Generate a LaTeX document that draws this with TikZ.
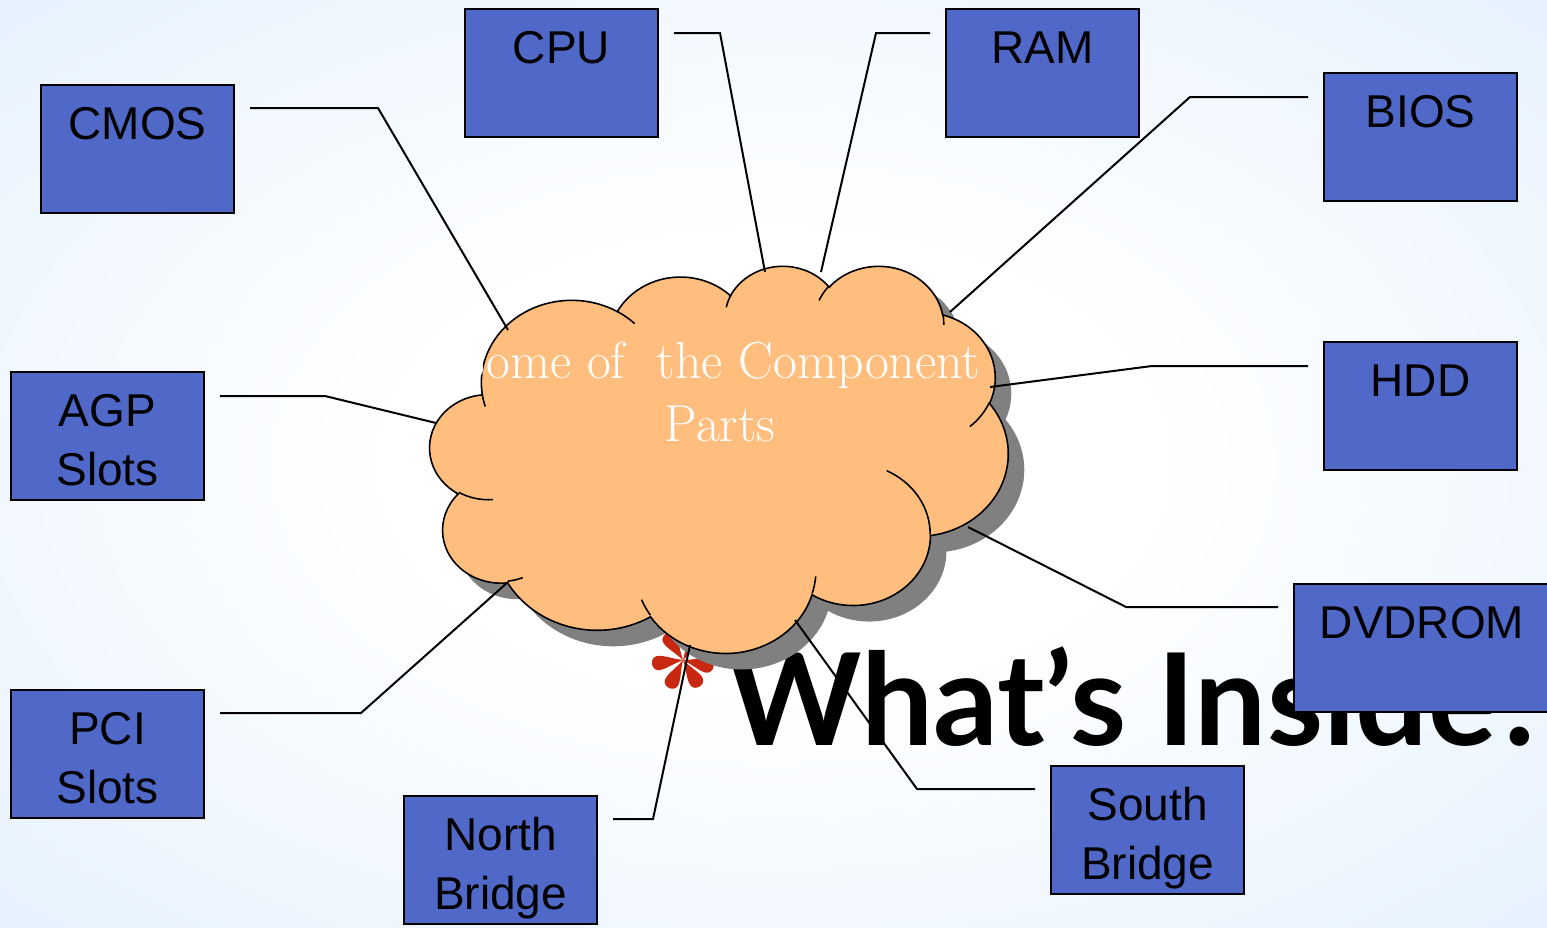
\documentclass[tikz,border=0pt]{standalone}
\usepackage{fontspec}
\usetikzlibrary{fadings}
\newfontfamily\partfont{Liberation Sans}
\newfontfamily\titlefont{Lato}

\definecolor{partblue}{RGB}{80,104,200}
\definecolor{cloudfill}{RGB}{255,190,125}
\definecolor{shadowgrey}{RGB}{128,128,128}
\definecolor{starred}{RGB}{200,40,15}
\definecolor{bgblue}{RGB}{188,221,250}
\definecolor{bgedge}{RGB}{205,230,251}
\definecolor{bgmid}{RGB}{234,244,254}

\pgfdeclareradialshading{bgglow}{\pgfpoint{0bp}{0bp}}{color(0bp)=(white); color(12bp)=(white); color(32bp)=(bgmid); color(50bp)=(bgedge); color(71bp)=(bgblue)}
\tikzfading[name=bandfade, top color=transparent!100, middle color=transparent!25, bottom color=transparent!100]

\tikzset{
  declare function={pcorr(\t,\a,\b)=atan((\a-\b)*sin(\t)*cos(\t)/(\b*cos(\t)*cos(\t)+\a*sin(\t)*sin(\t)));},
  partbox/.style={draw=black, line width=1pt, fill=partblue, inner sep=0pt, anchor=north west,
    font=\partfont\fontsize{23pt}{29.5pt}\selectfont},
  leader/.style={draw=black, line width=1pt},
  puffline/.style={draw=black, line width=0.8pt},
  cloudtext/.style={text=white, align=center, inner sep=0pt, font=\fontsize{26pt}{31.5pt}\selectfont},
  titletext/.style={inner sep=0pt, anchor=base west, font=\titlefont\bfseries\fontsize{64pt}{70pt}\selectfont}
}

% text sits at the top of each box
\newcommand\toptext[2][96.5pt]{\parbox[c][64pt][t]{#1}{\centering\rule{0pt}{27pt}#2}}
% one puff of the cloud: x radius, y radius, start angle, sweep
\newcommand\puff[4]{arc[x radius=#1, y radius=#2, start angle={#3+pcorr(#3,#1,#2)}, end angle={#3+#4+pcorr(#3+#4,#1,#2)}]}

\def\cloudpath{(39,143.7)
  \puff{67.53}{91.90}{-190.4875}{123.7805}
  \puff{53.33}{72.67}{-144.1024}{89.9452}
  \puff{43.65}{59.45}{-145.8079}{99.7230}
  \puff{48.57}{65.95}{-130.9861}{117.2417}
  \puff{53.33}{72.73}{-78.7089}{109.0269}
  \puff{67.75}{92.20}{-46.2673}{130.2690}
  \puff{57.85}{78.67}{0.6250}{114.0333}
  \puff{67.52}{92.15}{22.4516}{115.1726}
  \puff{77.20}{105.43}{66.2426}{75.7110}
  \puff{43.60}{59.18}{-274.9421}{146.7356}
  \puff{43.45}{59.45}{-246.8285}{152.5189} -- cycle}

\begin{document}
\begin{tikzpicture}[x=0.5pt, y=-0.5pt]
\useasboundingbox (0,0) rectangle (1547,927);
\shade[shading=bgglow] (0,0) rectangle (1547,927);
\fill[bgblue, path fading=bandfade] (0,590) rectangle (1547,800);
\fill[bgblue, path fading=bandfade] (0,820) rectangle (1547,1000);

% title with its bullet
\node[titletext] (title) at (727,745) {What’s Inside?};
\foreach \a in {60,123,187,243,302,347}
  \fill[starred, shift={(683,660)}, rotate=\a]
    (0,0) .. controls (12,-3) and (20,-8) .. (26,-7)
    .. controls (33,-6) and (33,6) .. (26,7)
    .. controls (20,8) and (12,3) .. (0,0);

% cloud
\begin{scope}[shift={(446,281)}, x=0.669pt, y=-0.448pt]
  \fill[shadowgrey] \cloudpath;
\end{scope}
\begin{scope}[shift={(430,265)}, x=0.669pt, y=-0.448pt]
  \filldraw[fill=cloudfill, puffline] \cloudpath;
  \draw[puffline]
    (46.93,261.77) \puff{43.45}{59.45}{86.7420}{26.4295}
    (69.28,348.99) \puff{43.60}{59.18}{73.6105}{11.4475}
    (164.78,390.90) \puff{67.52}{92.15}{137.6242}{14.0811}
    (288.27,347.51) \puff{67.52}{92.15}{6.4533}{15.9984}
    (341.29,229.54) \puff{57.85}{78.67}{-70.2924}{70.9174}
    (417.98,153.54) \puff{53.33}{72.73}{30.3180}{27.7515}
    (383.24,54.26) \puff{48.57}{65.95}{-13.7443}{14.8589}
    (290.78,39.52) \puff{48.57}{65.95}{-149.1815}{18.1954}
    (221.41,47.20) \puff{43.65}{59.45}{-163.4943}{17.6864}
    (140.00,51.92) \puff{67.53}{91.90}{-66.7070}{12.3194}
    (41.27,157.89) \puff{67.53}{91.90}{157.6544}{11.8582};
\end{scope}
\node[cloudtext] (parts) at (720,392) {Some of\hspace{0.3em} the Component\\Parts};

% where the leaders meet the cloud
\coordinate (cmos-tip) at (508,330);
\coordinate (cpu-tip) at (765,272);
\coordinate (ram-tip) at (821,272);
\coordinate (bios-tip) at (950,312);
\coordinate (hdd-tip) at (990,387);
\coordinate (dvd-tip) at (968,527);
\coordinate (agp-tip) at (436,423);
\coordinate (pci-tip) at (508,582);
\coordinate (nb-tip) at (690,645);
\coordinate (sb-tip) at (795,620);

% part boxes
\node[partbox] (cmos) at (40,84) {\toptext{CMOS}};
\node[partbox] (cpu) at (464,8) {\toptext{CPU}};
\node[partbox] (ram) at (945,8) {\toptext{RAM}};
\node[partbox] (bios) at (1323,72) {\toptext{BIOS}};
\node[partbox] (hdd) at (1323,341) {\toptext{HDD}};
\node[partbox] (agp) at (10,371) {\toptext{AGP\\Slots}};
\node[partbox] (pci) at (10,689) {\toptext{PCI\\Slots}};
\node[partbox] (nb) at (403,795) {\toptext{North\\Bridge}};
\node[partbox] (sb) at (1050,765) {\toptext{South\\Bridge}};

\draw[leader] ([shift={(15,24)}]cmos.north east) -- ++(128,0) -- (cmos-tip);
\draw[leader] ([shift={(15,25)}]cpu.north east) -- ++(46,0) -- (cpu-tip);
\draw[leader] ([shift={(-15,25)}]ram.north west) -- ++(-54,0) -- (ram-tip);
\draw[leader] ([shift={(-15,25)}]bios.north west) -- ++(-118,0) -- (bios-tip);
\draw[leader] ([shift={(-15,25)}]hdd.north west) -- ++(-156,0) -- (hdd-tip);
\draw[leader] ([shift={(15,25)}]agp.north east) -- ++(105,0) -- (agp-tip);
\draw[leader] ([shift={(15,24)}]pci.north east) -- ++(141,0) -- (pci-tip);
\draw[leader] ([shift={(15,24)}]nb.north east) -- ++(40,0) -- (nb-tip);
\draw[leader] ([shift={(-15,24)}]sb.north west) -- ++(-118,0) -- (sb-tip);

\node[partbox] (dvd) at (1293,583) {\toptext[128pt]{DVDROM}};
\draw[leader] ([shift={(-15,24)}]dvd.north west) -- ++(-152,0) -- (dvd-tip);
\end{tikzpicture}
\end{document}
